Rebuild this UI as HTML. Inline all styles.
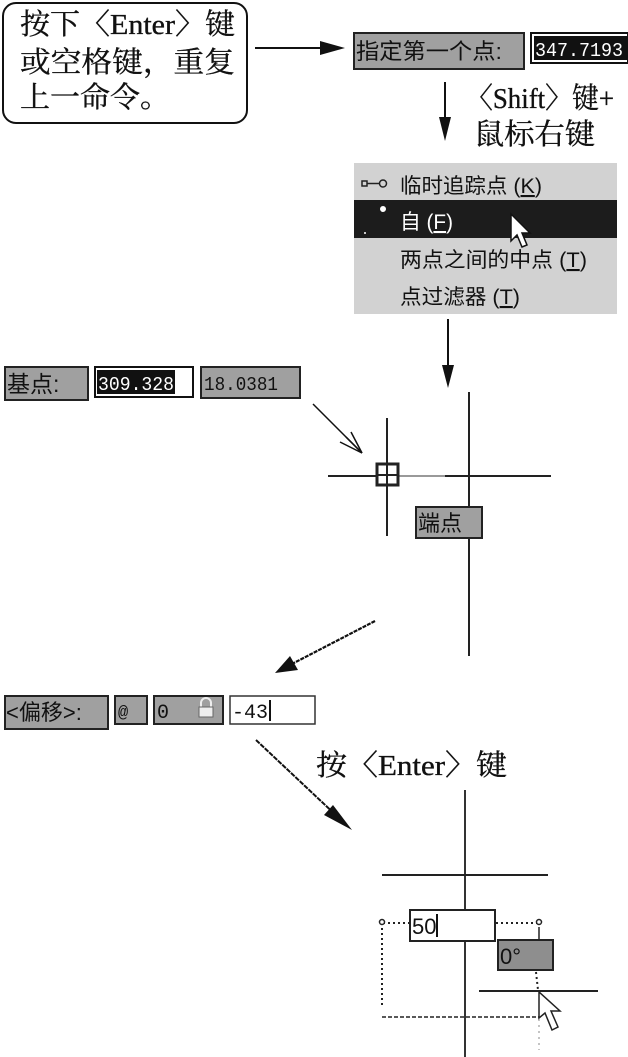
<!DOCTYPE html>
<html><head><meta charset="utf-8">
<style>
html,body{margin:0;padding:0;background:#fff;}
svg{display:block;}
.big{font-family:"Liberation Serif","Noto Serif CJK SC",serif;font-size:29px;fill:#111;stroke:#111;stroke-width:0.35px;}
.ui{font-family:"Liberation Sans","Noto Sans CJK SC",sans-serif;fill:#111;}
.mono{font-family:"Liberation Mono",monospace;}
</style></head>
<body>
<svg width="628" height="1057" viewBox="0 0 628 1057" xmlns="http://www.w3.org/2000/svg">
<!-- top-left rounded callout -->
<rect x="3" y="3" width="244" height="120" rx="13" ry="13" fill="#fff" stroke="#111" stroke-width="2"/>
<text class="big" x="20" y="34" textLength="215" lengthAdjust="spacingAndGlyphs">按下〈Enter〉键</text>
<text class="big" x="20" y="72" textLength="215" lengthAdjust="spacingAndGlyphs">或空格键，重复</text>
<text class="big" x="20" y="107" textLength="150" lengthAdjust="spacingAndGlyphs">上一命令。</text>

<!-- right arrow -->
<line x1="255" y1="48" x2="328" y2="48" stroke="#111" stroke-width="2"/>
<polygon points="320,41 345,48 320,55" fill="#111"/>

<!-- 指定第一个点 box -->
<rect x="354" y="33" width="170" height="36" fill="#a0a0a0" stroke="#222" stroke-width="2"/>
<text class="ui" x="356" y="59" font-size="22" textLength="146" lengthAdjust="spacingAndGlyphs">指定第一个点:</text>
<rect x="531" y="33" width="97" height="30" fill="#fff" stroke="#111" stroke-width="2"/>
<rect x="534" y="36" width="94" height="24" fill="#111"/>
<text class="mono" x="535" y="56" font-size="19" fill="#fff" textLength="88" lengthAdjust="spacingAndGlyphs">347.7193</text>

<!-- down arrow 1 -->
<line x1="445" y1="82" x2="445" y2="125" stroke="#111" stroke-width="2"/>
<polygon points="439,117 451,117 445,141" fill="#111"/>
<text class="big" x="466" y="108" font-size="29" textLength="148" lengthAdjust="spacingAndGlyphs">〈Shift〉键+</text>
<text class="big" x="474" y="144" font-size="30" textLength="121" lengthAdjust="spacingAndGlyphs">鼠标右键</text>

<!-- context menu -->
<rect x="354" y="163" width="263" height="151" fill="#d2d2d2"/>
<rect x="354" y="200" width="263" height="38" fill="#1c1c1c"/>
<rect x="362" y="181" width="5" height="5" fill="none" stroke="#222" stroke-width="1.5"/>
<line x1="367" y1="183.5" x2="379" y2="183.5" stroke="#222" stroke-width="1.5"/>
<circle cx="383" cy="183.5" r="3.5" fill="none" stroke="#222" stroke-width="1.5"/>
<circle cx="383" cy="209" r="3" fill="#fff"/>
<circle cx="365" cy="233" r="1" fill="#fff"/>
<text class="ui" x="400" y="193" font-size="21" textLength="142" lengthAdjust="spacingAndGlyphs">临时追踪点 (<tspan text-decoration="underline">K</tspan>)</text>
<text class="ui" x="400" y="229" font-size="21" style="fill:#fff" textLength="53" lengthAdjust="spacingAndGlyphs">自 (<tspan text-decoration="underline">F</tspan>)</text>
<text class="ui" x="400" y="267" font-size="21" textLength="187" lengthAdjust="spacingAndGlyphs">两点之间的中点 (<tspan text-decoration="underline">T</tspan>)</text>
<text class="ui" x="400" y="304" font-size="21" textLength="120" lengthAdjust="spacingAndGlyphs">点过滤器 (<tspan text-decoration="underline">T</tspan>)</text>
<!-- menu cursor -->
<polygon points="511,214 511,241 517,235 522,247 527,245 522,233 530,233" fill="#fff" stroke="#111" stroke-width="1.5"/>

<!-- down arrow 2 -->
<line x1="448" y1="319" x2="448" y2="372" stroke="#111" stroke-width="2"/>
<polygon points="442,365 454,365 448,388" fill="#111"/>

<!-- 基点 row -->
<rect x="5" y="367" width="83" height="33" fill="#a0a0a0" stroke="#222" stroke-width="2"/>
<text class="ui" x="7" y="392" font-size="23">基点:</text>
<rect x="95" y="367" width="98" height="30" fill="#fff" stroke="#111" stroke-width="2"/>
<rect x="97" y="370" width="78" height="24" fill="#111"/>
<text class="mono" x="98" y="390" font-size="19" fill="#fff" textLength="76" lengthAdjust="spacingAndGlyphs">309.328</text>
<rect x="201" y="367" width="99" height="31" fill="#a0a0a0" stroke="#222" stroke-width="2"/>
<text class="mono" x="204" y="390" font-size="19" fill="#111" textLength="74" lengthAdjust="spacingAndGlyphs">18.0381</text>

<!-- small open arrow -->
<line x1="313" y1="404" x2="362" y2="453" stroke="#111" stroke-width="1.5"/>
<line x1="362" y1="453" x2="351" y2="432" stroke="#111" stroke-width="1.5"/>
<line x1="362" y1="453" x2="340" y2="442" stroke="#111" stroke-width="1.5"/>
<line x1="362" y1="453" x2="346" y2="437" stroke="#111" stroke-width="1.5"/>

<!-- crosshairs -->
<line x1="387" y1="418" x2="387" y2="536" stroke="#222" stroke-width="2"/>
<line x1="328" y1="476" x2="376" y2="476" stroke="#222" stroke-width="2"/>
<line x1="399" y1="476" x2="445" y2="476" stroke="#999" stroke-width="2"/>
<line x1="445" y1="476" x2="551" y2="476" stroke="#222" stroke-width="2"/>
<line x1="469" y1="392" x2="469" y2="656" stroke="#222" stroke-width="2"/>
<rect x="377" y="464" width="21" height="21" fill="none" stroke="#222" stroke-width="3"/>
<line x1="377" y1="475" x2="398" y2="475" stroke="#222" stroke-width="2"/>
<line x1="387" y1="464" x2="387" y2="485" stroke="#222" stroke-width="2"/>
<rect x="416" y="507" width="66" height="31" fill="#a0a0a0" stroke="#222" stroke-width="2"/>
<text class="ui" x="418" y="531" font-size="22">端点</text>

<!-- arrow to 偏移 -->
<line x1="375" y1="621" x2="290" y2="665" stroke="#111" stroke-width="2.2" stroke-dasharray="4,1"/>
<polygon points="275,673 290,656 298,670" fill="#111"/>

<!-- 偏移 row -->
<rect x="5" y="696" width="103" height="33" fill="#a0a0a0" stroke="#222" stroke-width="2"/>
<text class="ui" x="6" y="720" font-size="22">&lt;偏移&gt;:</text>
<rect x="115" y="696" width="32" height="28" fill="#a0a0a0" stroke="#222" stroke-width="2"/>
<text class="mono" x="118" y="717" font-size="17" fill="#111">@</text>
<rect x="154" y="696" width="69" height="28" fill="#a0a0a0" stroke="#222" stroke-width="2"/>
<text class="mono" x="157" y="718" font-size="20" fill="#111">0</text>
<path d="M201,707 v-4 a5,5 0 0 1 10,0 v4" fill="none" stroke="#eee" stroke-width="2"/>
<rect x="199" y="707" width="14" height="10" fill="#eee" stroke="#666" stroke-width="1"/>
<rect x="230" y="696" width="85" height="28" fill="#fff" stroke="#333" stroke-width="1.5"/>
<text class="mono" x="232" y="718" font-size="20" fill="#111">-43</text>
<line x1="270" y1="700" x2="270" y2="721" stroke="#111" stroke-width="2"/>

<!-- arrow down-right -->
<line x1="256" y1="740" x2="340" y2="819" stroke="#111" stroke-width="2" stroke-dasharray="5,1"/>
<polygon points="352,830 333,805 324,815" fill="#111"/>
<text class="big" x="316" y="775" font-size="29" textLength="191" lengthAdjust="spacingAndGlyphs">按〈Enter〉键</text>

<!-- bottom drawing -->
<line x1="465" y1="790" x2="465" y2="1057" stroke="#333" stroke-width="2"/>
<line x1="382" y1="875" x2="548" y2="875" stroke="#222" stroke-width="2"/>
<line x1="383" y1="923" x2="410" y2="923" stroke="#222" stroke-width="2" stroke-dasharray="2,3"/>
<line x1="496" y1="923" x2="537" y2="923" stroke="#222" stroke-width="2" stroke-dasharray="2,3"/>
<circle cx="382" cy="922" r="2.5" fill="#fff" stroke="#222" stroke-width="1.5"/>
<circle cx="539" cy="922" r="2.5" fill="#fff" stroke="#222" stroke-width="1.5"/>
<line x1="382" y1="928" x2="382" y2="1006" stroke="#222" stroke-width="2" stroke-dasharray="2,3"/>
<line x1="382" y1="1017" x2="540" y2="1017" stroke="#222" stroke-width="1.5" stroke-dasharray="4,2"/>
<line x1="539" y1="927" x2="539" y2="940" stroke="#222" stroke-width="1.5"/>
<line x1="536" y1="972" x2="538" y2="990" stroke="#222" stroke-width="2" stroke-dasharray="2,3"/>
<line x1="539" y1="995" x2="539" y2="1050" stroke="#888" stroke-width="1" stroke-dasharray="2,4"/>
<rect x="410" y="910" width="85" height="31" fill="#fff" stroke="#222" stroke-width="2"/>
<text class="ui" x="412" y="934" font-size="22" fill="#111">50</text>
<line x1="437" y1="914" x2="437" y2="937" stroke="#111" stroke-width="2"/>
<rect x="498" y="940" width="55" height="30" fill="#8e8e8e" stroke="#222" stroke-width="2"/>
<text class="ui" x="500" y="964" font-size="22" fill="#222">0°</text>
<line x1="479" y1="991" x2="598" y2="991" stroke="#222" stroke-width="2"/>
<polygon points="539,992 539,1018 545,1013 552,1030 558,1027 551,1011 560,1011" fill="#fff" stroke="#222" stroke-width="1.5"/>
</svg>
</body></html>
